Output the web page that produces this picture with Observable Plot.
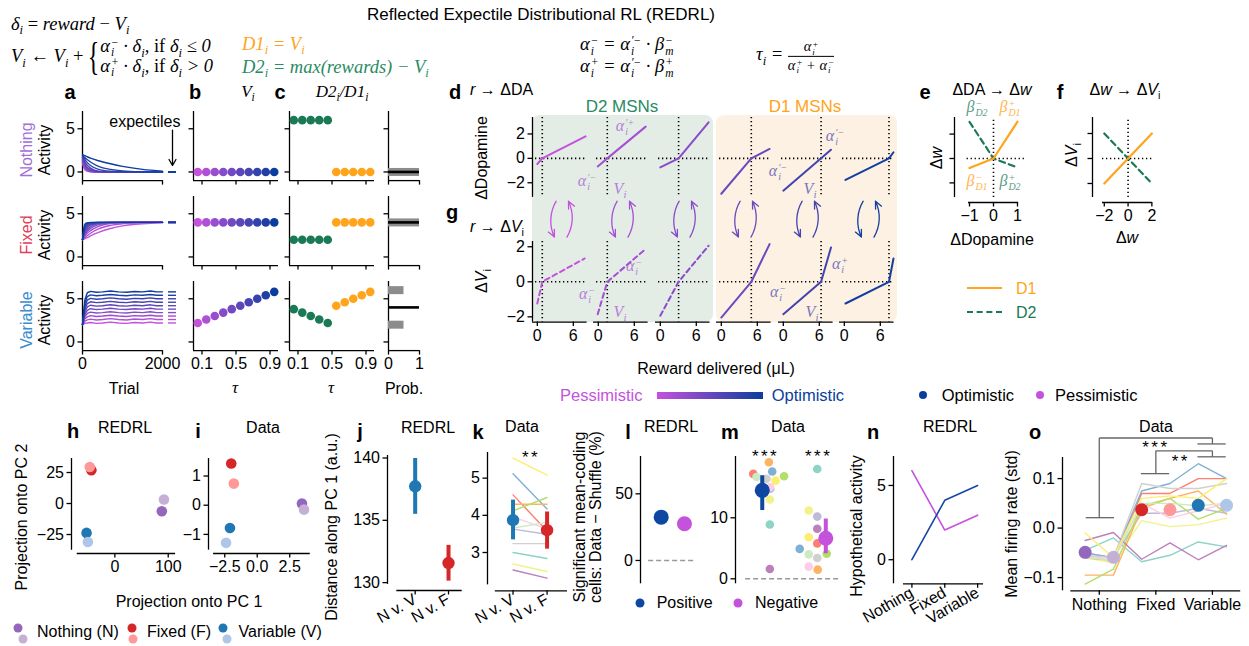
<!DOCTYPE html>
<html><head><meta charset="utf-8">
<script src="https://cdn.jsdelivr.net/npm/d3@7"></script>
<script src="https://cdn.jsdelivr.net/npm/@observablehq/plot@0.6"></script>
<style>
html,body{margin:0;padding:0;background:#fff;}
#root{position:relative;width:1249px;height:646px;overflow:hidden;background:#fff;font-family:"Liberation Sans",Arial,Helvetica,sans-serif;color:#000;}
.t{position:absolute;white-space:nowrap;line-height:1;}
.m{font-family:"Liberation Serif","DejaVu Serif","Times New Roman",serif;font-style:italic;}
sub,sup{font-size:0.68em;line-height:0;}
.ss{display:inline-block;vertical-align:-0.4em;font-size:0.62em;line-height:0.9;text-align:left;margin-left:1px;}
.ss>span{display:block;}
.up{font-style:normal;}
.brace{display:inline-block;font-size:40px;font-style:normal;line-height:0.75;transform:scaleX(0.6);vertical-align:middle;margin:0 -3px 0 -4px;}
.cases{display:inline-block;vertical-align:middle;line-height:16px;}
.cases>span{display:block;}
.frac{display:inline-block;vertical-align:middle;text-align:center;font-size:0.78em;line-height:1.2;}
.frac>span{display:block;}
.frac .num{border-bottom:1px solid #000;padding:0 3px;}
#root svg{position:absolute;}
.box{position:absolute;border-radius:8px;}
.dot{position:absolute;border-radius:50%;transform:translate(-50%,-50%);}
</style></head><body><div id="root"></div>
<script>
// ===================== DATA =====================
const CONDITIONS = ["Nothing", "Fixed", "Variable"];
const TAU = [0.05, 0.15, 0.25, 0.35, 0.45, 0.55, 0.65, 0.75, 0.85, 0.95];
const TAU_D2 = [0.05, 0.15, 0.25, 0.35, 0.45];
const TAU_D1 = [0.55, 0.65, 0.75, 0.85, 0.95];
const V_NOTHING = [0, 0, 0, 0, 0, 0, 0, 0, 0, 0];
const V_FIXED = [4, 4, 4, 4, 4, 4, 4, 4, 4, 4];
const V_VARIABLE = [2.2, 2.6, 3.0, 3.4, 3.8, 4.2, 4.6, 5.0, 5.4, 5.8];
const D2_NOTHING = [6, 6, 6, 6, 6];
const D1_NOTHING = [0, 0, 0, 0, 0];
const D2_FIXED = [2, 2, 2, 2, 2];
const D1_FIXED = [4, 4, 4, 4, 4];
const D2_VARIABLE = [3.8, 3.4, 3.0, 2.6, 2.2];
const D1_VARIABLE = [4.2, 4.6, 5.0, 5.4, 5.8];
const REWARD_NOTHING = [0], PROB_NOTHING = [1];
const REWARD_FIXED = [4], PROB_FIXED = [1];
const REWARD_VARIABLE = [2, 6], PROB_VARIABLE = [0.5, 0.5];
const MEAN_REWARD = [0, 4, 4];

const TRIALS_A = [0, 50, 100, 200, 400, 700, 1000, 1500, 2000];
const CURVES_NOTHING = [
  [1.0, 0.35, 0.12, 0.02, 0, 0, 0, 0, 0],
  [1.1, 0.45, 0.18, 0.04, 0, 0, 0, 0, 0],
  [1.2, 0.55, 0.25, 0.06, 0, 0, 0, 0, 0],
  [1.3, 0.7, 0.35, 0.1, 0.01, 0, 0, 0, 0],
  [1.45, 0.85, 0.48, 0.16, 0.02, 0, 0, 0, 0],
  [1.6, 1.05, 0.65, 0.26, 0.04, 0, 0, 0, 0],
  [1.7, 1.25, 0.9, 0.45, 0.1, 0.02, 0, 0, 0],
  [1.8, 1.5, 1.2, 0.75, 0.3, 0.08, 0.02, 0, 0],
  [1.9, 1.7, 1.5, 1.15, 0.65, 0.3, 0.13, 0.03, 0],
  [2.0, 1.9, 1.8, 1.6, 1.3, 0.95, 0.65, 0.3, 0.1]
];
const CURVES_FIXED = [
  [2.0, 2.1, 2.2, 2.45, 2.85, 3.3, 3.6, 3.85, 3.95],
  [2.0, 2.2, 2.4, 2.75, 3.25, 3.65, 3.85, 3.96, 4.0],
  [2.0, 2.35, 2.65, 3.05, 3.55, 3.87, 3.96, 4.0, 4.0],
  [2.0, 2.5, 2.85, 3.3, 3.75, 3.95, 3.99, 4.0, 4.0],
  [2.0, 2.65, 3.05, 3.5, 3.87, 3.98, 4.0, 4.0, 4.0],
  [2.0, 2.8, 3.25, 3.68, 3.94, 4.0, 4.0, 4.0, 4.0],
  [2.0, 3.0, 3.45, 3.82, 3.98, 4.0, 4.0, 4.0, 4.0],
  [2.0, 3.2, 3.65, 3.92, 4.0, 4.0, 4.0, 4.0, 4.0],
  [2.0, 3.45, 3.83, 3.98, 4.0, 4.0, 4.0, 4.0, 4.0],
  [2.0, 3.7, 3.95, 4.0, 4.0, 4.0, 4.0, 4.0, 4.0]
];
const TRIALS_VAR = [0, 60, 120, 200, 350, 500, 700, 900, 1100, 1300, 1500, 1700, 1850, 2000];
const CURVES_VARIABLE = [
  [2.0, 2.15, 2.2, 2.25, 2.15, 2.2, 2.3, 2.2, 2.15, 2.25, 2.2, 2.3, 2.2, 2.2],
  [2.0, 2.4, 2.55, 2.65, 2.55, 2.6, 2.7, 2.6, 2.55, 2.65, 2.6, 2.7, 2.6, 2.6],
  [2.0, 2.7, 2.9, 3.05, 2.95, 3.0, 3.1, 3.0, 2.95, 3.05, 3.0, 3.1, 3.0, 3.0],
  [2.0, 2.95, 3.3, 3.45, 3.35, 3.4, 3.5, 3.4, 3.35, 3.45, 3.4, 3.5, 3.4, 3.4],
  [2.0, 3.2, 3.65, 3.85, 3.75, 3.8, 3.9, 3.8, 3.75, 3.85, 3.8, 3.9, 3.8, 3.8],
  [2.0, 3.5, 4.05, 4.25, 4.15, 4.2, 4.3, 4.2, 4.15, 4.25, 4.2, 4.3, 4.2, 4.2],
  [2.0, 3.8, 4.45, 4.65, 4.55, 4.6, 4.7, 4.6, 4.55, 4.65, 4.6, 4.7, 4.6, 4.6],
  [2.0, 4.1, 4.85, 5.05, 4.95, 5.0, 5.1, 5.0, 4.95, 5.05, 5.0, 5.1, 5.0, 5.0],
  [2.0, 4.5, 5.25, 5.45, 5.35, 5.4, 5.5, 5.4, 5.35, 5.45, 5.4, 5.5, 5.4, 5.4],
  [2.0, 4.9, 5.7, 5.85, 5.75, 5.8, 5.9, 5.8, 5.75, 5.85, 5.8, 5.9, 5.8, 5.8]
];

// d / g : six example neurons (3 D2, 3 D1)
const EXPECTILE_V = [0.83, 1.5, 3.05, 5.0, 6.3, 7.45];
const DA_REWARD = [[0, 0.83, 8.05], [-0.1, 1.5, 7.9], [0, 3.05, 8.05], [0, 5.0, 8.05], [0, 6.3, 7.95], [0.2, 7.45, 8.2]];
const DA_CHANGE = [[-0.46, 0, 1.8], [-0.66, 0, 2.6], [-0.74, 0, 2.95], [-2.9, 0, 0.77], [-2.65, 0, 0.71], [-1.77, 0, 0.5]];
const DV_REWARD = [[0, 0.83, 7.9], [-0.1, 1.5, 7.9], [0, 3.05, 8.05], [0, 5.0, 8.05], [0, 6.3, 7.95], [0.2, 7.45, 8.2]];
const DV_CHANGE = [[-1.24, 0, 1.33], [-1.85, 0, 1.87], [-1.94, 0, 2.06], [-2.04, 0, 2.15], [-1.85, 0, 1.96], [-1.24, 0, 1.33]];

// e / f
const E_DA = [-1, 0, 1];
const E_D1 = [-0.39, 0, 1.51];
const E_D2 = [1.5, 0, -0.37];
const F_DW = [-2, 2];
const F_D1 = [-2, 2];
const F_D2 = [2, -2];

// h / i : PCA projections, order N, N', F, F', V, V'
const H_PC1 = [88, 92, -44, -47, -53, -50.5];
const H_PC2 = [-6.2, 3.2, 26.9, 29.5, -23.7, -31];
const I_PC1 = [3.44, 3.6, -2.0, -1.8, -2.1, -2.4];
const I_PC2 = [0.06, -0.15, 1.43, 0.74, -0.78, -1.29];

// j / k
const COMPARISONS = ["N v. V", "N v. F"];
const J_MEAN = [137.73, 131.57];
const J_LO = [135.48, 130.12];
const J_HI = [139.96, 132.99];
const K_MEAN = [3.87, 3.6];
const K_LO = [3.34, 3.09];
const K_HI = [4.41, 4.09];
const K_MOUSE_NV = [3.0, 2.69, 3.63, 4.55, 5.12, 4.3, 4.12, 3.96, 3.24, 2.53, 3.66, 5.54];
const K_MOUSE_NF = [2.84, 2.49, 3.49, 3.58, 4.17, 4.3, 4.48, 3.63, 3.24, 2.31, 3.81, 5.08];

// l / m
const SIGN_GROUPS = ["Positive", "Negative"];
const L_VALUES = [32.5, 27.5];
const M_POS = [8.9, 13.0, 14.75, 17.2, 17.6, 19.1, 16.8, 15.0, 16.4, 1.6, 16.7, 16.1];
const M_NEG = [18.0, 11.2, 10.2, 5.8, 4.9, 1.5, 4.1, 2.0, 3.4, 8.2, 4.0, 6.8];
const M_POS_X = [0, 0, 0.01, -0.35, 0.05, -0.02, 0.3, 0, -0.07, 0, -0.28, 0.12];
const M_NEG_X = [1.0, 0.82, 1.0, 1.0, 0.63, 1.01, 1.2, 0.82, 1.0, 1.0, 0.82, 0.82];
const M_MEAN = [14.5, 6.65];
const M_LO = [11.2, 4.1];
const M_HI = [16.9, 9.8];
const M_SUM_X = [-0.16, 1.18];

// n
const N_OPTIMISTIC = [0, 4, 5];
const N_PESSIMISTIC = [6, 2, 3];

// o : six columns (N, N', F, F', V, V')
const O_MEAN = [-0.049, -0.059, 0.037, 0.037, 0.046, 0.046];
const O_MOUSE = [
  [-0.045, -0.02, -0.068, -0.055, -0.028, -0.038],
  [-0.06, -0.07, 0.015, 0.003, 0.007, 0.02],
  [-0.05, -0.06, 0.03, 0.03, 0.04, 0.03],
  [-0.06, -0.065, 0.07, 0.07, 0.10, 0.10],
  [-0.05, -0.06, 0.075, 0.09, 0.13, 0.10],
  [-0.095, -0.095, 0.04, 0.06, 0.075, 0.028],
  [-0.113, -0.083, 0.045, 0.06, 0.018, 0.04],
  [-0.055, -0.065, 0.05, 0.02, 0.035, 0.05],
  [-0.055, -0.06, 0.09, 0.08, 0.08, 0.09],
  [-0.025, -0.009, -0.063, -0.03, -0.064, -0.035],
  [-0.06, -0.065, 0.05, 0.05, 0.045, 0.05],
  [-0.01, -0.06, 0.06, 0.065, 0.06, 0.10]
];

// ===================== STYLE =====================
const FONT = '"Liberation Sans", Arial, Helvetica, sans-serif';
const PESS = "#c452dd", OPT = "#0b3d9e";
const grad = d3.interpolateRgb(PESS, OPT);
const COL10 = TAU.map((_, i) => grad(i / 9));
const COL6 = [0.0, 0.16, 0.32, 0.47, 0.7, 0.95].map(grad);
const GREEN = "#1a7a55", ORANGE = "#ffa41b";
const COND6 = ["#9467bd", "#c5b0d5", "#d62728", "#ff9896", "#1f77b4", "#aec7e8"];
const SET3 = ["#8dd3c7", "#f2f28a", "#bebada", "#fb8072", "#80b1d3", "#fdb462", "#b3de69", "#fccde5", "#d0d0d0", "#bc80bd", "#ccebc5", "#ffed6f"];
const ROWCOL = ["#a06ed8", "#e2405a", "#3a8bd0"];
const DOT = {stroke: "#000", strokeWidth: 1.6, strokeDasharray: "1.3,2.7"};

const root = document.getElementById("root");
const M = 70;
const fmtInt = d3.format("d");
const fmt1 = d3.format(".1f");
const blank = () => "";

function txt(html, x, y, o = {}) {
  const d = document.createElement("div");
  d.className = "t" + (o.cls ? " " + o.cls : "");
  d.innerHTML = html;
  d.style.left = x + "px"; d.style.top = y + "px";
  d.style.fontSize = (o.size || 16) + "px";
  if (o.color) d.style.color = o.color;
  if (o.weight) d.style.fontWeight = o.weight;
  if (o.opacity) d.style.opacity = o.opacity;
  const ax = o.anchor === "start" ? "0" : o.anchor === "end" ? "-100%" : "-50%";
  d.style.transform = `translate(${ax},-50%)` + (o.rotate ? ` rotate(${o.rotate}deg)` : "");
  root.appendChild(d);
  return d;
}
function div(cls, left, top, w, h, css) {
  const d = document.createElement("div");
  d.className = cls;
  Object.assign(d.style, {left: left + "px", top: top + "px", width: w + "px", height: h + "px"}, css || {});
  root.appendChild(d);
  return d;
}

function panel(o) {
  const sw = 1.3, fs = o.fs || 16;
  const marks = [];
  const ySp = o.ySpine === undefined ? o.yd : o.ySpine;
  const xSp = o.xSpine === undefined ? o.xd : o.xSpine;
  if (ySp) marks.push(Plot.ruleX([o.xd[0]], {y1: ySp[0], y2: ySp[1], stroke: "#000", strokeWidth: sw}));
  if (xSp) marks.push(Plot.ruleY([o.yd[0]], {x1: xSp[0], x2: xSp[1], stroke: "#000", strokeWidth: sw}));
  if (o.yTicks) marks.push(Plot.axisY({anchor: "left", ticks: o.yTicks, tickFormat: o.yFmt || fmtInt, tickSize: 4.5, tickPadding: 3, label: null, strokeWidth: sw, fontSize: fs}));
  if (o.xTicks) marks.push(Plot.axisX({anchor: "bottom", ticks: o.xTicks, tickFormat: o.xFmt || fmtInt, tickSize: 4.5, tickPadding: 3, label: null, strokeWidth: sw, fontSize: fs, ...(o.xRotate ? {tickRotate: o.xRotate} : {})}));
  marks.push(...(o.marks || []));
  const svg = Plot.plot({
    width: o.x1 - o.x0 + 2 * M, height: o.y1 - o.y0 + 2 * M,
    marginLeft: M, marginRight: M, marginTop: M, marginBottom: M,
    x: Object.assign({domain: o.xd}, o.xTicks ? {} : {axis: null}),
    y: Object.assign({domain: o.yd}, o.yTicks ? {} : {axis: null}),
    color: {type: "identity"},
    style: {fontFamily: FONT, fontSize: "16px", background: "transparent", overflow: "visible", color: "#000"},
    marks
  });
  svg.style.left = (o.x0 - M) + "px";
  svg.style.top = (o.y0 - M) + "px";
  root.appendChild(svg);
  d3.select(svg).selectAll("text").filter(function () { return this.textContent.includes("*"); }).attr("letter-spacing", "2.5px");
  return svg;
}

const sub = s => `<sub>${s}</sub>`;
const SS = (sp, sb) => `<span class="ss"><span>${sp}</span><span>${sb}</span></span>`;

// ===================== BACKGROUND BOXES (d/g) =====================
div("box", 531.7, 115, 181.3, 206.7, {background: "#e3ede6"});
div("box", 716, 115, 180.7, 206.7, {background: "#fcf1e2"});

// ===================== a, b, c, prob =====================
const ROW_TOP = [110.5, 195.5, 280.5];
const ROW_BOT = [179.6, 264.6, 349.6];
const V_ROWS = [V_NOTHING, V_FIXED, V_VARIABLE];
const CURVES = [CURVES_NOTHING, CURVES_FIXED, CURVES_VARIABLE];
const TRIALS = [TRIALS_A, TRIALS_A, TRIALS_VAR];
const D2_ROWS = [D2_NOTHING, D2_FIXED, D2_VARIABLE];
const D1_ROWS = [D1_NOTHING, D1_FIXED, D1_VARIABLE];
const REW_ROWS = [REWARD_NOTHING, REWARD_FIXED, REWARD_VARIABLE];
const PROB_ROWS = [PROB_NOTHING, PROB_FIXED, PROB_VARIABLE];

for (let r = 0; r < 3; r++) {
  const last = r === 2;
  const y0 = ROW_TOP[r], y1 = ROW_BOT[r];
  const curveData = CURVES[r].flatMap((c, i) => c.map((v, k) => ({trial: TRIALS[r][k], v, i})));
  const dashData = V_ROWS[r].map((v, i) => ({v, i}));
  const extra = r === 0 ? [
    Plot.text(["expectiles"], {x: 1560, y: 5.75, text: d => d, fontSize: 16}),
    Plot.arrow([0], {x1: 2250, y1: 4.85, x2: 2250, y2: 0.75, stroke: "#000", strokeWidth: 1.3, headLength: 8})
  ] : [];
  panel({x0: 81.7, x1: 161.7, y0, y1, xd: [0, 2000], yd: [-1, 7],
    xTicks: [0, 2000], xFmt: last ? fmtInt : blank, yTicks: [0, 5],
    marks: [
      Plot.line(curveData, {x: "trial", y: "v", z: "i", stroke: d => COL10[d.i], strokeWidth: 1.4, curve: last ? "linear" : "monotone-x"}),
      Plot.ruleY(dashData, {y: "v", x1: 2150, x2: 2350, stroke: d => COL10[d.i], strokeWidth: 1.4}),
      ...extra
    ]});
  // b
  panel({x0: 192.5, x1: 277.5, y0, y1, xd: [0, 1], yd: [-1, 7],
    xTicks: [0.1, 0.5, 0.9], xFmt: last ? fmt1 : blank, yTicks: [0, 5], yFmt: blank,
    marks: [Plot.dot(TAU.map((t, i) => ({t, v: V_ROWS[r][i], i})), {x: "t", y: "v", r: 4.3, fill: d => COL10[d.i]})]});
  // c
  panel({x0: 289, x1: 374, y0, y1, xd: [0, 1], yd: [-1, 7],
    xTicks: [0.1, 0.5, 0.9], xFmt: last ? fmt1 : blank, yTicks: [0, 5], yFmt: blank,
    marks: [
      Plot.dot(TAU_D2.map((t, i) => ({t, v: D2_ROWS[r][i]})), {x: "t", y: "v", r: 4.3, fill: GREEN}),
      Plot.dot(TAU_D1.map((t, i) => ({t, v: D1_ROWS[r][i]})), {x: "t", y: "v", r: 4.3, fill: ORANGE})
    ]});
  // reward distribution
  panel({x0: 388.3, x1: 419.3, y0, y1, xd: [0, 1], yd: [-1, 7],
    xTicks: [0, 1], xFmt: last ? fmtInt : blank, yTicks: [0, 5], yFmt: blank,
    marks: [
      Plot.ruleY(REW_ROWS[r].map((v, i) => ({v, p: PROB_ROWS[r][i]})), {y: "v", x1: 0, x2: "p", stroke: "#8c8c8c", strokeWidth: 8}),
      Plot.ruleY([MEAN_REWARD[r]], {x1: 0, x2: 1, stroke: "#000", strokeWidth: 2.6})
    ]});
  const cy = (y0 + y1) / 2 + 5;
  txt(CONDITIONS[r], 27, cy, {rotate: -90, color: ROWCOL[r], size: 16});
  txt("Activity", 45, cy, {rotate: -90, size: 16});
}

// ===================== d / g =====================
const SUB_ZERO = 536.7, SUB_STEP = 61.5, PXU = 6;
for (let i = 0; i < 6; i++) {
  const z = SUB_ZERO + SUB_STEP * i;
  const x0 = z - 0.8 * PXU, x1 = z + 8.3 * PXU;
  const col = COL6[i];
  const first = i === 0;
  const dotted = [
    Plot.ruleX([EXPECTILE_V[i]], DOT),
    Plot.ruleY([0], {x1: -0.3, x2: 8.1, ...DOT})
  ];
  panel({x0, x1, y0: 116.8, y1: 196.7, xd: [-0.8, 8.3], yd: [-3.2, 3.35],
    ySpine: first ? [-3.2, 3.35] : null, xSpine: null,
    yTicks: first ? [-2, 0, 2] : null,
    marks: [...dotted,
      Plot.line(DA_REWARD[i].map((x, k) => ({x, y: DA_CHANGE[i][k]})), {x: "x", y: "y", stroke: col, strokeWidth: 2})]});
  panel({x0, x1, y0: 241.4, y1: 322, xd: [-0.8, 8.3], yd: [-2.3, 2.3],
    ySpine: first ? [-2.3, 2.3] : null,
    yTicks: first ? [-2, 0, 2] : null, xTicks: [0, 6],
    marks: [...dotted,
      Plot.line(DV_REWARD[i].map((x, k) => ({x, y: DV_CHANGE[i][k]})), {x: "x", y: "y", stroke: col, strokeWidth: 2, strokeDasharray: i < 3 ? "5,3.5" : null}),
      Plot.arrow([0], {x1: 3.15, y1: 4.6, x2: 2.85, y2: 2.55, bend: -28, stroke: col, strokeWidth: 1.3, headLength: 9, headAngle: 50}),
      Plot.arrow([0], {x1: 4.95, y1: 2.55, x2: 5.2, y2: 4.6, bend: -28, stroke: col, strokeWidth: 1.3, headLength: 9, headAngle: 50})
    ]});
}

// ===================== e / f =====================
panel({x0: 954.3, x1: 1030, y0: 116.7, y1: 201.7, xd: [-1.625, 1.529], yd: [-1.803, 1.68],
  ySpine: [-1.6, 1.68], xSpine: [-1.04, 1.04], xTicks: [-1, 0, 1], yTicks: [-1, 0, 1], yFmt: blank,
  marks: [
    Plot.ruleX([0], {y1: -1.6, y2: 1.68, ...DOT}),
    Plot.ruleY([0], {x1: -1.1, x2: 1.4, ...DOT}),
    Plot.line(E_DA.map((x, k) => ({x, y: E_D2[k]})), {x: "x", y: "y", stroke: GREEN, strokeWidth: 2.2, strokeDasharray: "6,4"}),
    Plot.line(E_DA.map((x, k) => ({x, y: E_D1[k]})), {x: "x", y: "y", stroke: ORANGE, strokeWidth: 2.2})
  ]});
panel({x0: 1091.7, x1: 1160, y0: 116.7, y1: 201.7, xd: [-2.99, 2.75], yd: [-3.52, 3.28],
  ySpine: [-3.12, 3.28], xSpine: [-2.15, 2.05], xTicks: [-2, 0, 2], yTicks: [-2, 0, 2], yFmt: blank,
  marks: [
    Plot.ruleX([0], {y1: -3.12, y2: 3.28, ...DOT}),
    Plot.ruleY([0], {x1: -2.15, x2: 2.05, ...DOT}),
    Plot.line(F_DW.map((x, k) => ({x, y: F_D2[k]})), {x: "x", y: "y", stroke: GREEN, strokeWidth: 2.2, strokeDasharray: "6,4"}),
    Plot.line(F_DW.map((x, k) => ({x, y: F_D1[k]})), {x: "x", y: "y", stroke: ORANGE, strokeWidth: 2.2})
  ]});

// ===================== h / i =====================
panel({x0: 71, x1: 180, y0: 458.3, y1: 553.3, xd: [-81.2, 123], yd: [-40.3, 36.3],
  ySpine: [-37.66, 36.3], xSpine: [-70.5, 113.8], xTicks: [0, 100], yTicks: [-25, 0, 25],
  marks: [Plot.dot(H_PC1.map((x, k) => ({x, y: H_PC2[k], k})), {x: "x", y: "y", r: 5.3, fill: d => COND6[d.k]})]});
panel({x0: 208.3, x1: 315, y0: 458.3, y1: 553.3, xd: [-3.75, 4.46], yd: [-1.654, 1.6],
  ySpine: [-1.54, 1.6], xSpine: [-3.36, 4.08], xTicks: [-2.5, 0, 2.5], xFmt: fmt1, yTicks: [-1, 0, 1],
  marks: [Plot.dot(I_PC1.map((x, k) => ({x, y: I_PC2[k], k})), {x: "x", y: "y", r: 5.3, fill: d => COND6[d.k]})]});

// ===================== j / k =====================
const JK_COL = ["#1f77b4", "#d62728"];
panel({x0: 387.3, x1: 462, y0: 455, y1: 590, xd: [-0.83, 1.41], yd: [129.37, 140.2],
  ySpine: [129.86, 140.2], xSpine: [-0.55, 1.41], xTicks: [0, 1], xFmt: d => COMPARISONS[d], xRotate: -30, yTicks: [130, 135, 140],
  marks: [
    Plot.ruleX(J_MEAN.map((m, k) => ({x: k, lo: J_LO[k], hi: J_HI[k], k})), {x: "x", y1: "lo", y2: "hi", stroke: d => JK_COL[d.k], strokeWidth: 4}),
    Plot.dot(J_MEAN.map((m, k) => ({x: k, m, k})), {x: "x", y: "m", r: 6.2, fill: d => JK_COL[d.k]})
  ]});
panel({x0: 487, x1: 567, y0: 451.7, y1: 590, xd: [-0.75, 1.6], yd: [1.97, 5.69],
  ySpine: [2.13, 5.69], xSpine: [-0.52, 1.6], xTicks: [0, 1], xFmt: d => COMPARISONS[d], xRotate: -30, yTicks: [3, 4, 5],
  marks: [
    Plot.line(K_MOUSE_NV.flatMap((v, m) => [{x: 0, y: v, m}, {x: 1, y: K_MOUSE_NF[m], m}]), {x: "x", y: "y", z: "m", stroke: d => SET3[d.m], strokeWidth: 1.4}),
    Plot.ruleX(K_MEAN.map((m, k) => ({x: k, lo: K_LO[k], hi: K_HI[k], k})), {x: "x", y1: "lo", y2: "hi", stroke: d => JK_COL[d.k], strokeWidth: 4}),
    Plot.dot(K_MEAN.map((m, k) => ({x: k, m, k})), {x: "x", y: "m", r: 6.2, fill: d => JK_COL[d.k]}),
    Plot.text(["**"], {x: 0.53, y: 5.55, text: d => d, fontSize: 17})
  ]});

// ===================== l / m =====================
const LM_COL = ["#0d47a1", "#c452dd"];
panel({x0: 640, x1: 700, y0: 456, y1: 583.3, xd: [-0.89, 1.69], yd: [-17.5, 78],
  xSpine: null, yTicks: [0, 50],
  marks: [
    Plot.ruleY([0], {x1: -0.54, x2: 1.4, stroke: "#999", strokeWidth: 1.4, strokeDasharray: "5,3"}),
    Plot.dot(L_VALUES.map((v, k) => ({x: k, v, k})), {x: "x", y: "v", r: 7.5, fill: d => LM_COL[d.k]})
  ]});
panel({x0: 735, x1: 840, y0: 456, y1: 583.3, xd: [-0.724, 1.49], yd: [-0.82, 20.05],
  xSpine: null, yTicks: [0, 10],
  marks: [
    Plot.ruleY([0], {x1: -0.51, x2: 1.46, stroke: "#999", strokeWidth: 1.4, strokeDasharray: "5,3"}),
    Plot.dot(M_POS.map((v, m) => ({x: M_POS_X[m], v, m})), {x: "x", y: "v", r: 4.3, fill: d => SET3[d.m]}),
    Plot.dot(M_NEG.map((v, m) => ({x: M_NEG_X[m], v, m})), {x: "x", y: "v", r: 4.3, fill: d => SET3[d.m]}),
    Plot.ruleX(M_MEAN.map((v, k) => ({x: M_SUM_X[k], lo: M_LO[k], hi: M_HI[k], k})), {x: "x", y1: "lo", y2: "hi", stroke: d => LM_COL[d.k], strokeWidth: 4}),
    Plot.dot(M_MEAN.map((v, k) => ({x: M_SUM_X[k], v, k})), {x: "x", y: "v", r: 7.5, fill: d => LM_COL[d.k]}),
    Plot.text(["***", "***"], {x: [-0.09, 1.03], y: [20.1, 20.1], text: d => d, fontSize: 17})
  ]});

// ===================== n =====================
panel({x0: 893.3, x1: 985, y0: 456, y1: 583.3, xd: [-0.56, 2.23], yd: [-1.62, 6.95],
  xSpine: [-0.256, 2.18], xTicks: [0, 1, 2], xFmt: d => CONDITIONS[d], xRotate: -30, yTicks: [0, 5],
  marks: [
    Plot.line(N_PESSIMISTIC.map((v, k) => ({x: k, v})), {x: "x", y: "v", stroke: PESS, strokeWidth: 1.6}),
    Plot.line(N_OPTIMISTIC.map((v, k) => ({x: k, v})), {x: "x", y: "v", stroke: "#1646a8", strokeWidth: 1.6})
  ]});

// ===================== o =====================
const O_TICKS = [0.5, 2.5, 4.5];
const BRACKETS = [
  [0.02, 0.021, 1.02, 0.021], [0.5, 0.021, 0.5, 0.182], [0.5, 0.182, 4.5, 0.182], [4.5, 0.182, 4.5, 0.170], [3.97, 0.170, 4.97, 0.170],
  [1.97, 0.110, 2.97, 0.110], [2.5, 0.110, 2.5, 0.156], [2.5, 0.156, 4.5, 0.156], [4.5, 0.156, 4.5, 0.144], [3.97, 0.144, 4.97, 0.144]
];
panel({x0: 1061.7, x1: 1245, y0: 456.7, y1: 590, xd: [-0.8, 5.68], yd: [-0.1267, 0.1426],
  xSpine: [-0.505, 5.5], xTicks: O_TICKS, xFmt: d => CONDITIONS[O_TICKS.indexOf(d)], yTicks: [-0.1, 0, 0.1], yFmt: fmt1,
  marks: [
    Plot.line(O_MOUSE.flatMap((row, m) => row.map((v, k) => ({x: k, v, m}))), {x: "x", y: "v", z: "m", stroke: d => SET3[d.m], strokeWidth: 1.4}),
    Plot.dot(O_MEAN.map((v, k) => ({x: k, v, k})), {x: "x", y: "v", r: 6.5, fill: d => COND6[d.k]}),
    Plot.link(BRACKETS, {x1: d => d[0], y1: d => d[1], x2: d => d[2], y2: d => d[3], stroke: "#666", strokeWidth: 1.3}),
    Plot.text(["***", "**"], {x: [2.5, 3.38], y: [0.163, 0.135], text: d => d, fontSize: 17})
  ]});

// ===================== TEXT =====================
const EQ = 18.5;
txt("Reflected Expectile Distributional RL (REDRL)", 541, 14, {size: 17});
txt(`δ${sub("i")} <span class="up">=</span> reward <span class="up">−</span> V${sub("i")}`, 11, 24, {cls: "m", anchor: "start", size: EQ});
txt(`V${sub("i")} <span class="up">←</span> V${sub("i")} <span class="up">+</span> <span class="brace">{</span><span class="cases"><span>α${SS("−", "i")} · δ${sub("i")}, <span class="up">if</span> δ${sub("i")} ≤ 0</span><span>α${SS("+", "i")} · δ${sub("i")}, <span class="up">if</span> δ${sub("i")} &gt; 0</span></span>`, 11, 57.5, {cls: "m", anchor: "start", size: EQ});
txt(`D1${sub("i")} = V${sub("i")}`, 242, 44, {cls: "m", anchor: "start", size: EQ, color: ORANGE});
txt(`D2${sub("i")} = max(rewards) − V${sub("i")}`, 242, 67, {cls: "m", anchor: "start", size: EQ, color: "#2a8a63"});
txt(`α${SS("−", "i")} = α${SS("′−", "i")} · β${SS("−", "m")}`, 580, 45, {cls: "m", anchor: "start", size: EQ});
txt(`α${SS("+", "i")} = α${SS("′−", "i")} · β${SS("+", "m")}`, 580, 67, {cls: "m", anchor: "start", size: EQ});
txt(`τ${sub("i")} = <span class="frac"><span class="num">α${SS("+", "i")}</span><span>α${SS("+", "i")} + α${SS("−", "i")}</span></span>`, 756, 56, {cls: "m", anchor: "start", size: EQ});

// panel letters
[["a", 70, 92], ["b", 195, 92], ["c", 280, 92], ["d", 455, 92], ["g", 452, 212], ["e", 925, 92], ["f", 1060, 92],
 ["h", 73, 431], ["i", 198, 431], ["j", 360, 431], ["k", 478, 432], ["l", 628, 432], ["m", 730, 432], ["n", 873, 432], ["o", 1035, 432]]
  .forEach(([s, x, y]) => txt(s, x, y, {weight: "bold", size: 20}));

txt(`<span class="m">V${sub("i")}</span>`, 248, 91, {size: 17});
txt(`<span class="m">D2${sub("i")}/D1${sub("i")}</span>`, 342, 91, {size: 17});
txt("Trial", 124, 389, {size: 16});
txt(`<span class="m">τ</span>`, 235, 387, {size: 17});
txt(`<span class="m">τ</span>`, 331, 387, {size: 17});
txt("Prob.", 404, 389, {size: 16});

txt(`<i>r</i> → ΔDA`, 470, 90, {anchor: "start", size: 16});
txt(`<i>r</i> → Δ<i>V</i>${sub("i")}`, 470, 227, {anchor: "start", size: 16});
txt("D2 MSNs", 622, 106, {size: 17, color: "#2a8a63"});
txt("D1 MSNs", 805, 106, {size: 17, color: ORANGE});
txt("ΔDopamine", 482, 158, {rotate: -90, size: 16});
txt(`Δ<i>V</i>${sub("i")}`, 482, 281, {rotate: -90, size: 16});
txt("Reward delivered (μL)", 716, 369, {size: 16});

// alpha / V labels inside d and g
const lab = (h, x, y, c) => txt(h, x, y, {cls: "m", size: 16, color: c, opacity: 0.7});
lab(`α${SS("′+", "i")}`, 625, 127, COL6[1]);
lab(`α${SS("′−", "i")}`, 587, 182, COL6[1]);
lab(`V${sub("i")}`, 620, 189, COL6[1]);
lab(`α${SS("−", "i")}`, 634, 267, COL6[1]);
lab(`α${SS("−", "i")}`, 587, 295, COL6[1]);
lab(`V${sub("i")}`, 620, 312, COL6[1]);
lab(`α${SS("′−", "i")}`, 835, 137, COL6[4]);
lab(`α${SS("′−", "i")}`, 778, 172, COL6[4]);
lab(`V${sub("i")}`, 810, 189, COL6[4]);
lab(`α${SS("+", "i")}`, 840, 265, COL6[4]);
lab(`α${SS("−", "i")}`, 778, 293, COL6[4]);
lab(`V${sub("i")}`, 812, 312, COL6[4]);

// e / f labels
txt(`ΔDA → Δ<i>w</i>`, 992, 90, {size: 16});
txt(`Δ<i>w</i> → Δ<i>V</i>${sub("i")}`, 1125, 90, {size: 16});
txt(`Δ<i>w</i>`, 937, 158, {rotate: -90, size: 16});
txt(`Δ<i>V</i>${sub("i")}`, 1072, 155, {rotate: -90, size: 16});
txt("ΔDopamine", 992, 240, {size: 16});
txt(`Δ<i>w</i>`, 1127, 238, {size: 16});
txt(`β${SS("−", "<i>D</i>2")}`, 977, 108, {cls: "m", size: 16, color: GREEN, opacity: 0.75});
txt(`β${SS("+", "<i>D</i>1")}`, 1010, 108, {cls: "m", size: 16, color: ORANGE, opacity: 0.8});
txt(`β${SS("−", "<i>D</i>1")}`, 977, 182, {cls: "m", size: 16, color: ORANGE, opacity: 0.8});
txt(`β${SS("+", "<i>D</i>2")}`, 1010, 182, {cls: "m", size: 16, color: GREEN, opacity: 0.75});

// D1 / D2 legend
div("", 967, 287.3, 35, 0, {position: "absolute", borderTop: `2.2px solid ${ORANGE}`});
div("", 967, 311.3, 35, 0, {position: "absolute", borderTop: `2.2px dashed ${GREEN}`});
txt("D1", 1016, 289, {anchor: "start", size: 16, color: ORANGE});
txt("D2", 1016, 313, {anchor: "start", size: 16, color: GREEN});

// gradient legend + optimistic / pessimistic legend
txt("Pessimistic", 560, 395, {anchor: "start", size: 16.5, color: PESS});
div("", 656.7, 391.7, 106.6, 7, {position: "absolute", background: `linear-gradient(to right, ${PESS}, ${OPT})`});
txt("Optimistic", 771.7, 395, {anchor: "start", size: 16.5, color: OPT});
div("dot", 923.3, 395, 8, 8, {background: OPT});
txt("Optimistic", 941.7, 395, {anchor: "start", size: 16.5});
div("dot", 1040, 395, 8, 8, {background: PESS});
txt("Pessimistic", 1055, 395, {anchor: "start", size: 16.5});

// bottom titles
txt("REDRL", 125, 428, {size: 16});
txt("Data", 263, 428, {size: 16});
txt("REDRL", 428, 428, {size: 16});
txt("Data", 522, 427, {size: 16});
txt("REDRL", 671, 427, {size: 16});
txt("Data", 788, 427, {size: 16});
txt("REDRL", 950, 427, {size: 16});
txt("Data", 1156, 427, {size: 16});

// bottom axis titles
txt("Projection onto PC 2", 22, 517, {rotate: -90, size: 16});
txt("Projection onto PC 1", 189, 602, {size: 16});
txt("Distance along PC 1 (a.u.)", 332, 527, {rotate: -90, size: 16});
txt("Significant mean-coding", 580, 517, {rotate: -90, size: 16});
txt("cells: Data − Shuffle (%)", 596, 517, {rotate: -90, size: 16});
txt("Hypothetical activity", 857, 526, {rotate: -90, size: 16});
txt("Mean firing rate (std)", 1012, 524, {rotate: -90, size: 16});

// h/i legend
[[18.3, 22.7, 37, 0], [131.7, 133.3, 147, 1], [223.3, 226.7, 238.5, 2]].forEach(([xa, xb, xt, c]) => {
  div("dot", xa, 627.5, 9, 9, {background: COND6[2 * c]});
  div("dot", xb, 638.5, 9, 9, {background: COND6[2 * c + 1]});
  txt(`${CONDITIONS[c]} (${CONDITIONS[c][0]})`, xt, 632, {anchor: "start", size: 16});
});
// l/m legend
div("dot", 640, 603.3, 9, 9, {background: LM_COL[0]});
txt(SIGN_GROUPS[0], 656.7, 603.3, {anchor: "start", size: 16});
div("dot", 738.3, 603.3, 9, 9, {background: LM_COL[1]});
txt(SIGN_GROUPS[1], 755, 603.3, {anchor: "start", size: 16});
</script></body></html>
